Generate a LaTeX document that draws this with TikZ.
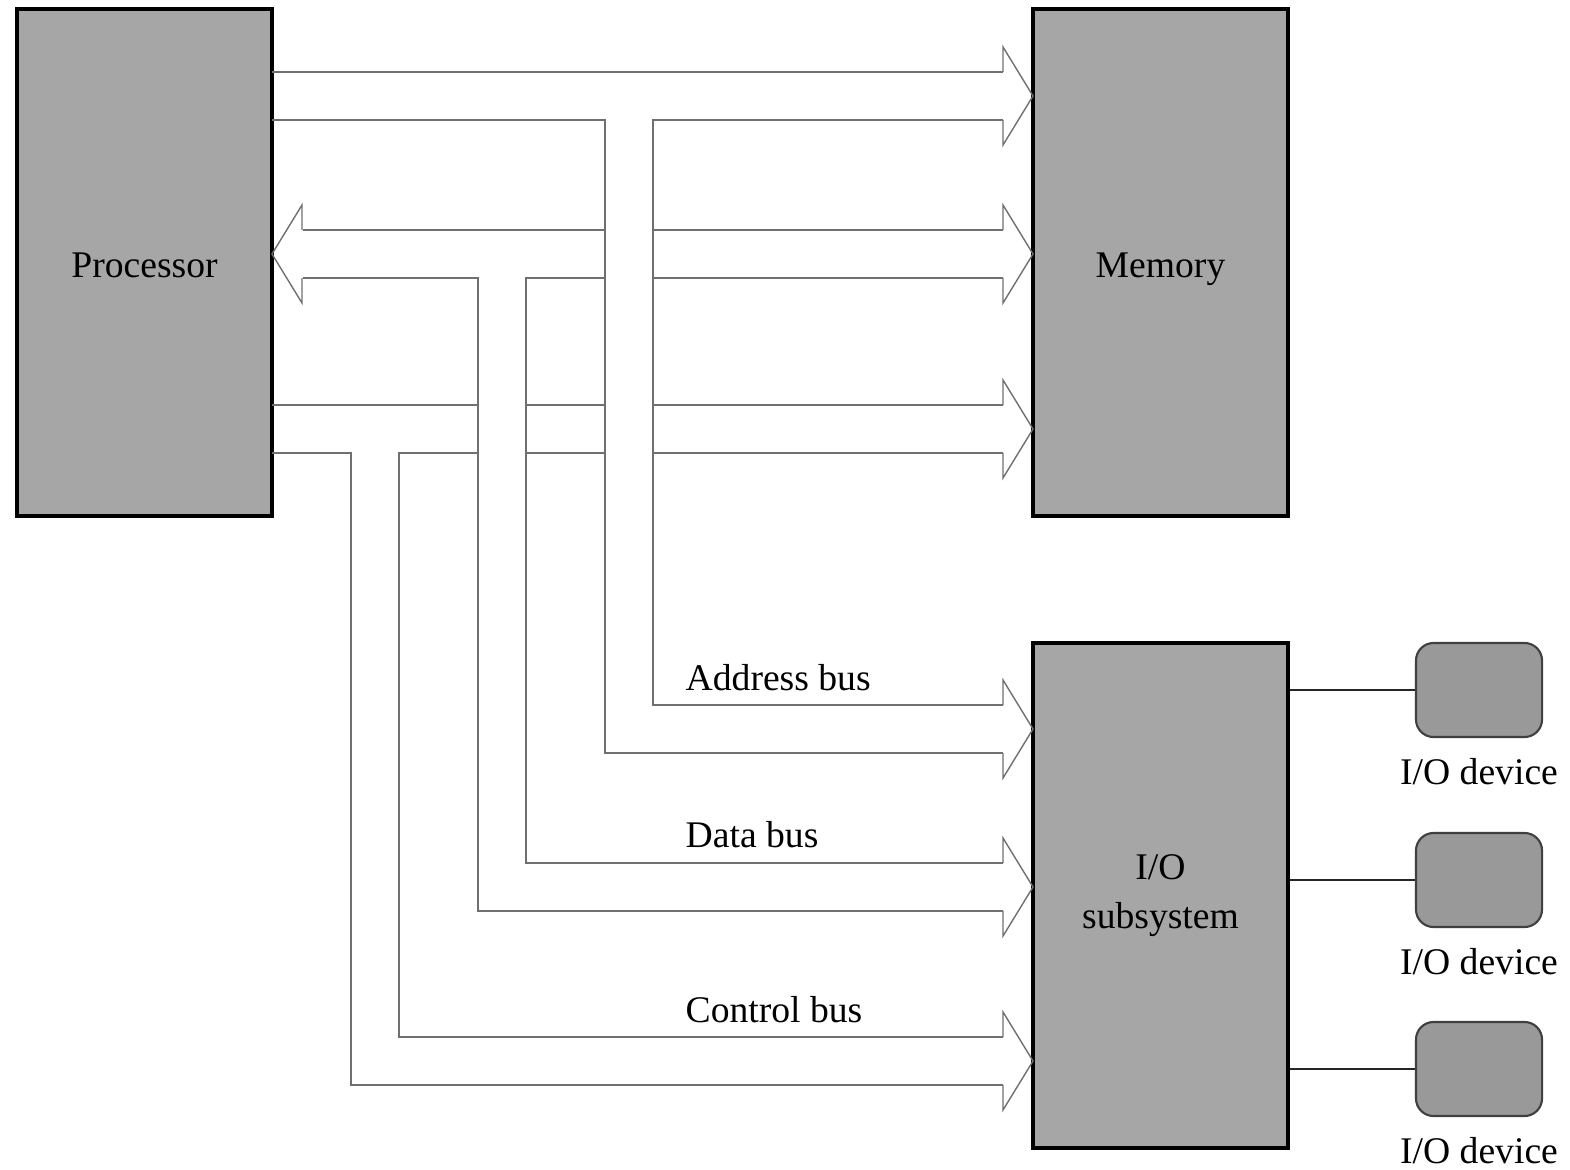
\documentclass[tikz,border=0pt]{standalone}
\usepackage{fontspec}
\setmainfont{Liberation Serif}
\usepackage{xcolor}
\usepackage{tikz}
\usetikzlibrary{positioning}
\definecolor{boxgray}{HTML}{A6A6A6}
\definecolor{devgray}{HTML}{999999}
\definecolor{busline}{HTML}{707070}
\tikzset{
  bus/.style={draw=busline,line width=0.4pt,line join=miter},
  busR/.pic={\draw[bus] (-30,-24) -- (-30,-49) -- (0,0) -- (-30,49) -- (-30,24);}
}

\begin{document}
\begin{tikzpicture}[x=0.01cm,y=-0.01cm,font=\fontsize{10.7}{14}\selectfont,
  unit/.style={draw,fill=boxgray,line width=1.15pt,minimum width=2.55cm,align=center,inner sep=0pt},
  oneline/.style={text height=8.25pt,text depth=0pt},
  device/.style={draw=black!75,fill=devgray,rounded corners=5pt,line width=0.6pt,minimum width=1.26cm,minimum height=0.94cm},
  lbl/.style={inner sep=0pt}]
  \useasboundingbox (0,0) rectangle (1570,1170);
  \node[unit,oneline,minimum height=5.07cm] (proc) at (144.5,262.5) {Processor};
  \node[unit,oneline,minimum height=5.07cm] (mem) at (1160.5,262.5) {Memory};
  \node[unit,minimum height=5.05cm] (io) at (1160.5,895.5) {I/O\\subsystem};
  \foreach \n/\y in {1/690,2/880,3/1069} {
    \node[device] (dev\n) at (1479,\y) {};
    \node[lbl,anchor=base] (devlbl\n) at (1479,\y+94) {I/O device};
    \draw[line width=0.6pt,black!85] (io.east |- dev\n.west) -- (dev\n.west);
  }
  % address bus
  \draw[bus] (272,72) -- (1003,72);
  \draw[bus] (272,120) -- (605,120) -- (605,753) -- (1003,753);
  \draw[bus] (1003,120) -- (653,120) -- (653,705) -- (1003,705);
  % data bus
  \draw[bus] (303,230) -- (605,230) (653,230) -- (1003,230);
  \draw[bus] (303,278) -- (478,278) -- (478,911) -- (1003,911);
  \draw[bus] (605,278) -- (526,278) -- (526,863) -- (1003,863);
  \draw[bus] (653,278) -- (1003,278);
  % control bus
  \draw[bus] (272,405) -- (478,405) (526,405) -- (605,405) (653,405) -- (1003,405);
  \draw[bus] (272,453) -- (351,453) -- (351,1085) -- (1003,1085);
  \draw[bus] (478,453) -- (399,453) -- (399,1037) -- (1003,1037);
  \draw[bus] (526,453) -- (605,453) (653,453) -- (1003,453);
  \foreach \y in {96,254,429,729,887,1061}
    \pic at (1033,\y) {busR};
  \pic[xscale=-1] at (272,254) {busR};
  \node[lbl,anchor=base west] (addr) at (685,690) {Address bus};
  \node[lbl,anchor=base west] (data) at (685,847) {Data bus};
  \node[lbl,anchor=base west] (ctrl) at (685,1022) {Control bus};
\end{tikzpicture}
\end{document}
